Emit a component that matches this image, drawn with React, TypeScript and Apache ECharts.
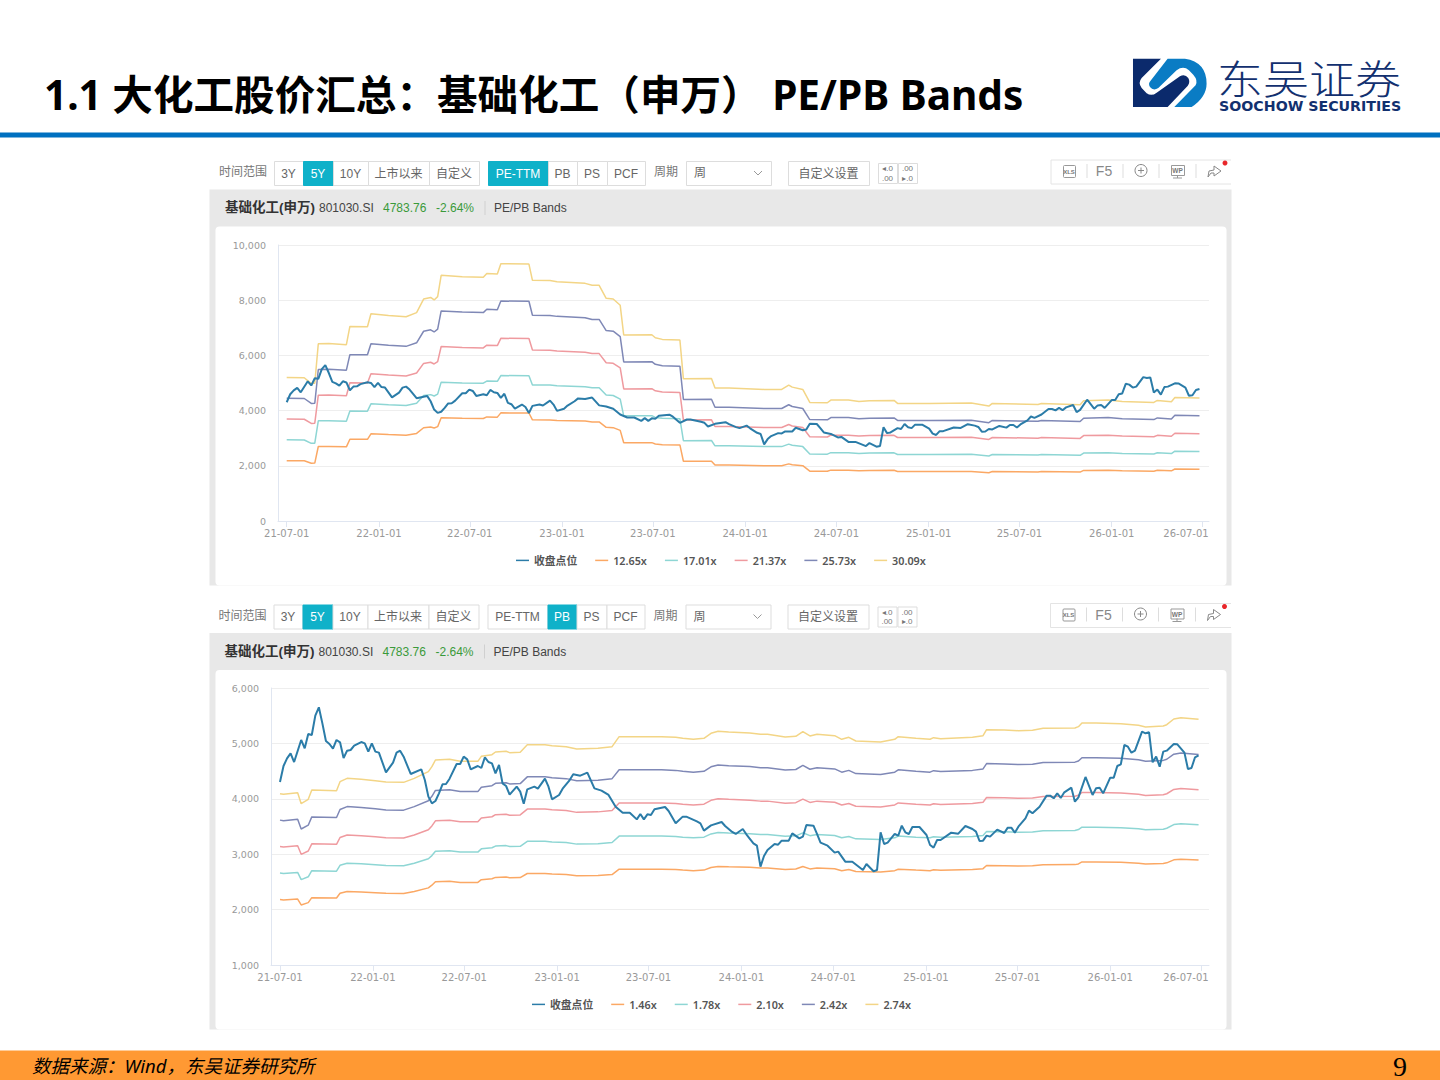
import React, { useEffect, useRef } from 'react';
import * as echarts from 'echarts';

const tickLabels = ['21-07-01', '22-01-01', '22-07-01', '23-01-01', '23-07-01', '24-01-01', '24-07-01', '25-01-01', '25-07-01', '26-01-01', '26-07-01'];

const closeName = '收盘点位';
const peNames = ['12.65x', '17.01x', '21.37x', '25.73x', '30.09x'];
const pbNames = ['1.46x', '1.78x', '2.10x', '2.42x', '2.74x'];
const bandColors = ['#fba864', '#8ed6d4', '#ef9a9f', '#7f88b6', '#f3d586'];

// 周收盘点位，周序号从 21-07-01 起算
const closeWeeks = [0, 1, 2, 3, 4, 6, 7, 8, 9, 10, 11, 12, 13, 14, 15, 16, 17, 18, 19, 20, 21, 23, 24, 25, 26, 27, 28, 30, 32, 33, 34, 35, 37, 40, 41, 42, 43, 44, 45, 46, 47, 48, 50, 51, 52, 53, 54, 56, 57, 58, 59, 60, 61, 62, 63, 64, 65, 67, 68, 69, 70, 72, 73, 75, 76, 77, 79, 80, 82, 83, 85, 87, 89, 91, 93, 95, 97, 99, 101, 102, 103, 104, 105, 106, 109, 110, 112, 114, 115, 118, 119, 120, 122, 125, 126, 128, 129, 131, 132, 134, 135, 136, 137, 138, 140, 141, 142, 144, 145, 147, 148, 149, 151, 152, 153, 155, 157, 158, 160, 162, 165, 166, 168, 169, 170, 171, 172, 174, 175, 176, 177, 178, 179, 181, 183, 184, 185, 186, 187, 190, 192, 194, 196, 197, 198, 199, 200, 201, 203, 205, 206, 207, 208, 209, 211, 212, 213, 215, 217, 218, 219, 220, 221, 222, 224, 225, 226, 228, 230, 231, 232, 233, 235, 236, 237, 238, 239, 240, 241, 242, 244, 245, 246, 247, 248, 249, 250, 251, 253, 254, 256, 257, 258, 259, 260];
const closeValues = [4303, 4592, 4731, 4821, 4664, 5062, 4911, 5170, 5152, 5501, 5651, 5362, 5043, 4989, 4905, 5062, 5020, 4737, 4869, 4881, 4959, 5025, 5001, 4851, 5001, 4851, 4833, 4478, 4652, 4833, 4869, 4761, 4448, 4532, 4339, 4039, 3918, 3960, 4099, 4261, 4267, 4363, 4628, 4628, 4761, 4712, 4532, 4592, 4556, 4749, 4664, 4640, 4460, 4610, 4279, 4231, 4075, 4219, 4129, 3912, 4171, 4219, 4183, 4363, 4219, 3990, 4069, 4183, 4339, 4442, 4418, 4472, 4189, 4147, 4069, 3858, 3750, 3750, 3629, 3726, 3629, 3720, 3708, 3810, 3852, 3780, 3557, 3678, 3678, 3593, 3557, 3425, 3521, 3581, 3509, 3401, 3365, 3455, 3359, 3196, 3154, 2775, 2968, 3076, 3184, 3172, 3244, 3244, 3377, 3286, 3316, 3527, 3515, 3365, 3208, 3154, 3028, 3046, 2865, 2865, 2715, 2823, 2691, 2715, 3395, 3184, 3208, 3365, 3335, 3515, 3395, 3365, 3491, 3491, 3347, 3166, 3118, 3256, 3256, 3389, 3371, 3509, 3455, 3407, 3238, 3244, 3335, 3317, 3443, 3383, 3479, 3479, 3389, 3497, 3647, 3786, 3738, 3858, 4057, 4057, 4009, 4099, 4015, 4117, 4201, 3948, 4027, 4394, 4069, 4189, 4201, 4099, 4382, 4382, 4592, 4622, 4971, 4941, 4833, 4869, 5212, 5182, 5200, 4658, 4761, 4580, 4851, 4869, 4989, 4983, 4833, 4538, 4556, 4749, 4784];

// PE Bands 折点
const peWeeks = [0, 5, 7, 8, 9, 12, 17, 18, 23, 24, 29, 34, 37, 39, 41, 42, 43, 44, 50, 56, 57, 60, 61, 69, 70, 75, 77, 85, 87, 89, 91, 93, 95, 96, 104, 105, 107, 112, 113, 121, 122, 126, 136, 141, 143, 144, 147, 149, 154, 155, 160, 163, 166, 173, 174, 183, 195, 200, 201, 214, 215, 226, 227, 234, 238, 247, 248, 252, 253, 260];
const pe1265 = [2186, 2182, 2094, 2098, 2699, 2703, 2686, 2964, 2960, 3157, 3132, 3111, 3174, 3380, 3405, 3367, 3418, 3742, 3721, 3712, 3771, 3763, 3918, 3914, 3666, 3662, 3645, 3620, 3590, 3590, 3393, 3382, 3285, 2834, 2838, 2791, 2766, 2758, 2165, 2169, 2026, 2025, 2004, 2004, 2070, 2039, 2004, 1806, 1801, 1842, 1842, 1822, 1832, 1837, 1791, 1791, 1796, 1751, 1791, 1776, 1791, 1771, 1832, 1842, 1822, 1806, 1837, 1817, 1883, 1872];
const pe1701 = [2940, 2934, 2815, 2821, 3629, 3635, 3612, 3985, 3980, 4245, 4211, 4183, 4268, 4545, 4579, 4528, 4596, 5031, 5003, 4992, 5071, 5059, 5269, 5263, 4929, 4924, 4901, 4867, 4828, 4828, 4562, 4548, 4418, 3810, 3816, 3754, 3720, 3708, 2911, 2917, 2725, 2722, 2695, 2695, 2784, 2742, 2695, 2429, 2422, 2477, 2477, 2449, 2463, 2470, 2408, 2408, 2415, 2354, 2408, 2388, 2408, 2381, 2463, 2477, 2449, 2429, 2470, 2443, 2531, 2518];
const pe2137 = [3693, 3686, 3537, 3544, 4559, 4567, 4538, 5007, 5000, 5334, 5291, 5255, 5362, 5710, 5753, 5689, 5774, 6321, 6285, 6271, 6371, 6356, 6619, 6612, 6193, 6186, 6157, 6115, 6065, 6065, 5731, 5714, 5550, 4787, 4794, 4716, 4673, 4659, 3658, 3665, 3423, 3420, 3386, 3386, 3498, 3444, 3386, 3052, 3043, 3111, 3111, 3077, 3094, 3103, 3025, 3025, 3034, 2957, 3025, 3000, 3025, 2991, 3094, 3111, 3077, 3052, 3103, 3069, 3180, 3163];
const pe2573 = [4447, 4438, 4258, 4267, 5490, 5498, 5464, 6028, 6020, 6422, 6370, 6328, 6456, 6875, 6926, 6849, 6952, 7610, 7568, 7551, 7670, 7653, 7969, 7961, 7456, 7448, 7414, 7362, 7303, 7303, 6901, 6879, 6683, 5763, 5772, 5678, 5627, 5609, 4404, 4412, 4122, 4118, 4077, 4077, 4211, 4147, 4077, 3674, 3664, 3746, 3746, 3705, 3726, 3736, 3643, 3643, 3653, 3561, 3643, 3612, 3643, 3602, 3726, 3746, 3705, 3674, 3736, 3695, 3829, 3809];
const pe3009 = [5200, 5190, 4980, 4990, 6420, 6430, 6390, 7050, 7040, 7510, 7450, 7400, 7550, 8040, 8100, 8010, 8130, 8900, 8850, 8830, 8970, 8950, 9320, 9310, 8720, 8710, 8670, 8610, 8540, 8540, 8070, 8045, 7815, 6740, 6750, 6640, 6580, 6560, 5150, 5160, 4820, 4816, 4768, 4768, 4925, 4850, 4768, 4297, 4285, 4381, 4381, 4333, 4357, 4369, 4260, 4260, 4272, 4164, 4260, 4224, 4260, 4212, 4357, 4381, 4333, 4297, 4369, 4321, 4478, 4454];

// PB Bands 折点
const pbWeeks = [0, 1, 5, 6, 8, 9, 16, 17, 19, 23, 27, 30, 35, 38, 42, 43, 44, 48, 51, 56, 57, 60, 61, 64, 65, 68, 70, 75, 77, 81, 84, 90, 94, 96, 101, 108, 112, 114, 117, 120, 122, 124, 127, 133, 136, 138, 143, 146, 148, 150, 152, 157, 159, 161, 163, 170, 174, 175, 180, 184, 185, 187, 196, 199, 200, 205, 209, 213, 216, 225, 226, 227, 231, 238, 243, 245, 250, 251, 253, 255, 260];
const pb146 = [2181, 2174, 2190, 2084, 2126, 2216, 2210, 2296, 2328, 2318, 2305, 2293, 2289, 2328, 2392, 2440, 2504, 2511, 2491, 2491, 2540, 2556, 2581, 2588, 2575, 2578, 2652, 2652, 2642, 2633, 2610, 2617, 2633, 2729, 2729, 2729, 2723, 2713, 2703, 2713, 2761, 2780, 2774, 2764, 2751, 2751, 2726, 2732, 2777, 2735, 2751, 2739, 2703, 2723, 2687, 2678, 2703, 2729, 2713, 2703, 2719, 2710, 2723, 2739, 2796, 2793, 2787, 2790, 2809, 2812, 2825, 2860, 2860, 2854, 2838, 2822, 2831, 2844, 2898, 2911, 2895];
const pb178 = [2659, 2651, 2671, 2541, 2592, 2702, 2694, 2799, 2838, 2826, 2811, 2795, 2791, 2838, 2917, 2975, 3053, 3061, 3038, 3038, 3097, 3116, 3147, 3155, 3140, 3143, 3233, 3233, 3221, 3210, 3182, 3190, 3210, 3327, 3327, 3327, 3319, 3308, 3296, 3308, 3366, 3390, 3382, 3370, 3355, 3355, 3323, 3331, 3386, 3335, 3355, 3339, 3296, 3319, 3277, 3265, 3296, 3327, 3308, 3296, 3316, 3304, 3319, 3339, 3409, 3405, 3397, 3401, 3425, 3429, 3444, 3487, 3487, 3479, 3460, 3440, 3452, 3468, 3534, 3549, 3530];
const pb210 = [3137, 3128, 3151, 2998, 3058, 3187, 3178, 3302, 3348, 3335, 3316, 3298, 3293, 3348, 3441, 3510, 3602, 3611, 3584, 3584, 3653, 3676, 3713, 3722, 3704, 3709, 3814, 3814, 3801, 3787, 3755, 3764, 3787, 3925, 3925, 3925, 3916, 3903, 3889, 3903, 3972, 3999, 3990, 3976, 3958, 3958, 3921, 3930, 3994, 3935, 3958, 3939, 3889, 3916, 3866, 3852, 3889, 3925, 3903, 3889, 3912, 3898, 3916, 3939, 4022, 4017, 4008, 4013, 4040, 4045, 4063, 4114, 4114, 4105, 4082, 4059, 4073, 4091, 4169, 4188, 4165];
const pb242 = [3615, 3604, 3631, 3455, 3524, 3673, 3663, 3806, 3859, 3843, 3822, 3800, 3795, 3859, 3966, 4045, 4151, 4162, 4130, 4130, 4210, 4237, 4279, 4290, 4269, 4274, 4396, 4396, 4380, 4364, 4327, 4337, 4364, 4524, 4524, 4524, 4513, 4497, 4481, 4497, 4577, 4609, 4598, 4582, 4561, 4561, 4518, 4529, 4603, 4534, 4561, 4540, 4481, 4513, 4455, 4439, 4481, 4524, 4497, 4481, 4508, 4492, 4513, 4540, 4635, 4630, 4619, 4624, 4656, 4662, 4683, 4741, 4741, 4730, 4704, 4677, 4693, 4714, 4805, 4826, 4799];
const pb274 = [4093, 4081, 4111, 3912, 3990, 4159, 4147, 4309, 4369, 4351, 4327, 4303, 4297, 4369, 4490, 4580, 4700, 4712, 4676, 4676, 4767, 4797, 4845, 4857, 4833, 4839, 4977, 4977, 4959, 4941, 4899, 4911, 4941, 5122, 5122, 5122, 5110, 5092, 5074, 5092, 5182, 5218, 5206, 5188, 5164, 5164, 5116, 5128, 5212, 5134, 5164, 5140, 5074, 5110, 5044, 5026, 5074, 5122, 5092, 5074, 5104, 5086, 5110, 5140, 5248, 5242, 5230, 5236, 5272, 5278, 5302, 5368, 5368, 5356, 5326, 5296, 5314, 5338, 5440, 5464, 5434];

const DAY = 86400000;
const START = Date.UTC(2021, 6, 1);
const tickTime = (label: string) => {
  const [y, m, d] = label.split('-').map(Number);
  return Date.UTC(2000 + y, m - 1, d);
};
const tickValues = tickLabels.map(tickTime);
const pairs = (weeks: number[], values: number[]) =>
  weeks.map((w, i) => [START + w * 7 * DAY, values[i]]);

const SANS = '"Liberation Sans","Noto Sans CJK SC",sans-serif';
const TICK_FONT = '"DejaVu Sans",sans-serif';
const GREY_TEXT = '#777';
const BORDER = '#ddd';
const ACTIVE = '#0fb1c9';

echarts.graphic.registerShape(
  'logoNavy',
  echarts.graphic.extendPath(
    'M24 20 L108 20 L50 78 Q38 92 50 108 L65 124 Q80 134 95 122 L165 73 Q180 65 190 78 Q197 90 188 102 L128 165 L24 165 Z',
    {},
  ),
);
echarts.graphic.registerShape(
  'logoBlue',
  echarts.graphic.extendPath(
    'M128 20 L180 20 Q245 30 245 95 Q245 135 200 165 L148 165 L212 100 Q220 85 205 68 L192 55 Q175 40 155 55 L100 108 Q85 118 75 105 Q68 95 78 85 Z',
    {},
  ),
);

const text = (x: number, y: number, value: string, size: number, fill: string, extra: any = {}) => ({
  type: 'text',
  z: -5,
  style: {
    x,
    y,
    text: value,
    fontSize: size,
    fontFamily: SANS,
    fill,
    textVerticalAlign: 'middle',
    ...extra,
  },
});

const rect = (x: number, y: number, w: number, h: number, fill: string, stroke?: string, r = 0) => ({
  type: 'rect',
  z: -5,
  shape: { x: x + 0.5, y: y + 0.5, width: w, height: h, r },
  style: { fill, stroke: stroke ?? 'none', lineWidth: 1 },
});

const line = (x1: number, y1: number, x2: number, y2: number, stroke: string, lineWidth = 1) => ({
  type: 'line',
  z: -5,
  shape: { x1, y1, x2, y2 },
  style: { stroke, lineWidth },
});

// 一行按钮，第一个参数是 [文字, 左, 右]
const buttons = (items: [string, number, number][], y: number, active: string) => {
  const out: any[] = [];
  items.forEach(([label, left, right]) => {
    const on = label === active;
    out.push(rect(left, y, right - left, 24, on ? ACTIVE : '#fff', on ? ACTIVE : BORDER));
    out.push(text((left + right) / 2, y + 12.5, label, 12, on ? '#fff' : '#666', { textAlign: 'center' }));
  });
  return out;
};

// 行情软件截图的工具栏、标题条和底板
const panel = (dx: number, dy: number, active: string, bottom: number) => {
  const Y = 161 + dy;
  return [
    rect(209, 189 + dy, 1022, bottom - 189 - dy, '#e8e8e8'),
    rect(215, 226 + dy, 1011, bottom - 226 - dy, '#fff', undefined, 4),
    text(219 + dx, 172 + dy, '时间范围', 12, GREY_TEXT),
    ...buttons(
      [['3Y', 274 + dx, 303 + dx], ['5Y', 303 + dx, 333 + dx], ['10Y', 333 + dx, 368 + dx], ['上市以来', 368 + dx, 429 + dx], ['自定义', 429 + dx, 479 + dx]],
      Y,
      '5Y',
    ),
    ...buttons(
      [['PE-TTM', 488 + dx, 548 + dx], ['PB', 548 + dx, 577 + dx], ['PS', 577 + dx, 607 + dx], ['PCF', 607 + dx, 645 + dx]],
      Y,
      active,
    ),
    text(654 + dx, 172 + dy, '周期', 12, GREY_TEXT),
    rect(686 + dx, Y, 85, 24, '#fff', BORDER),
    text(694 + dx, 173 + dy, '周', 12, '#666'),
    {
      type: 'polyline',
      z: -5,
      shape: { points: [[754 + dx, 171 + dy], [758 + dx, 175 + dy], [762 + dx, 171 + dy]] },
      style: { stroke: '#999', fill: 'none', lineWidth: 1 },
    },
    ...buttons([['自定义设置', 788 + dx, 869 + dx]], Y, ''),
    rect(878 + dx, 163 + dy, 19, 20, '#fff', BORDER),
    rect(898 + dx, 163 + dy, 19, 20, '#fff', BORDER),
    text(887.5 + dx, 168.5 + dy, '◂.0', 8, '#777', { textAlign: 'center' }),
    text(887.5 + dx, 178 + dy, '.00', 8, '#777', { textAlign: 'center' }),
    text(907.5 + dx, 168.5 + dy, '.00', 8, '#777', { textAlign: 'center' }),
    text(907.5 + dx, 178 + dy, '▸.0', 8, '#777', { textAlign: 'center' }),
    // 右侧图标栏
    line(1051 + dx, 160 + dy, 1231, 160 + dy, '#e4e4e4'),
    line(1051 + dx, 160 + dy, 1051 + dx, 184 + dy, '#e4e4e4'),
    line(1051 + dx, 184 + dy, 1231, 184 + dy, '#e4e4e4'),
    rect(1063 + dx, 165 + dy, 12, 12, '#fff', '#999', 1),
    text(1069 + dx, 171.5 + dy, 'XLS', 6, '#777', { textAlign: 'center', fontWeight: 'bold' }),
    line(1087 + dx, 164 + dy, 1087 + dx, 178 + dy, '#ddd'),
    text(1104 + dx, 171 + dy, 'F5', 14, '#888', { textAlign: 'center' }),
    line(1123 + dx, 164 + dy, 1123 + dx, 178 + dy, '#ddd'),
    { type: 'circle', z: -5, shape: { cx: 1141 + dx, cy: 170.5 + dy, r: 6 }, style: { fill: 'none', stroke: '#888', lineWidth: 1 } },
    line(1138 + dx, 170.5 + dy, 1144 + dx, 170.5 + dy, '#888'),
    line(1141 + dx, 167.5 + dy, 1141 + dx, 173.5 + dy, '#888'),
    line(1159 + dx, 164 + dy, 1159 + dx, 178 + dy, '#ddd'),
    rect(1171 + dx, 165 + dy, 13, 10, '#fff', '#999'),
    text(1177.5 + dx, 170.5 + dy, 'WP', 6.5, '#777', { textAlign: 'center', fontWeight: 'bold' }),
    line(1177.5 + dx, 175 + dy, 1177.5 + dx, 178 + dy, '#999'),
    line(1173 + dx, 178 + dy, 1182 + dx, 178 + dy, '#999'),
    line(1196 + dx, 164 + dy, 1196 + dx, 178 + dy, '#ddd'),
    {
      type: 'polyline',
      z: -5,
      shape: {
        points: [[1208, 177], [1209, 171], [1214, 170], [1214, 166], [1221, 171], [1214, 176], [1214, 173], [1211, 173], [1208, 177]].map(
          ([px, py]) => [px + dx, py + dy],
        ),
      },
      style: { fill: 'none', stroke: '#888', lineWidth: 1 },
    },
    { type: 'circle', z: -5, shape: { cx: 1225 + dx, cy: 163 + dy, r: 2.5 }, style: { fill: '#e8262a' } },
    // 标题条
    text(225 + dx, 207.5 + dy, '基础化工(申万)', 13.5, '#333', { fontWeight: 'bold' }),
    text(319 + dx, 208 + dy, '801030.SI', 12, '#444'),
    text(383 + dx, 208 + dy, '4783.76', 12, '#3a9a3a'),
    text(436 + dx, 208 + dy, '-2.64%', 12, '#3a9a3a'),
    line(485 + dx, 201 + dy, 485 + dx, 215 + dy, '#d0d0d0'),
    text(494 + dx, 208 + dy, 'PE/PB Bands', 12, '#444'),
  ];
};

const yLabel = (v: number) => v.toLocaleString('en-US');
const xLabel = (v: number) => {
  const d = new Date(v);
  const two = (n: number) => String(n).padStart(2, '0');
  return `${two(d.getUTCFullYear() % 100)}-${two(d.getUTCMonth() + 1)}-${two(d.getUTCDate())}`;
};

// 时间以毫秒值放在 value 轴上，刻度用 customValues 指定
const xAxis = (gridIndex: number, minDays: number, maxDays: number) => ({
  type: 'value',
  gridIndex,
  min: START + minDays * DAY,
  max: START + maxDays * DAY,
  axisLine: { show: true, onZero: false, lineStyle: { color: '#e0e6f1' } },
  axisTick: { show: true, length: 6, customValues: tickValues, lineStyle: { color: '#e0e6f1' } },
  axisLabel: {
    customValues: tickValues.slice(0, -1),
    formatter: xLabel,
    color: '#999',
    fontSize: 10,
    fontFamily: TICK_FONT,
    margin: 7,
  },
  splitLine: { show: false },
});

const yAxis = (gridIndex: number, min: number, max: number, interval: number) => ({
  type: 'value',
  gridIndex,
  min,
  max,
  interval,
  axisLine: { show: true, lineStyle: { color: '#e0e6f1' } },
  axisTick: { show: false },
  axisLabel: { formatter: yLabel, color: '#999', fontSize: 9.5, fontFamily: TICK_FONT, margin: 12 },
  splitLine: { lineStyle: { color: '#eeeeee' } },
});

const bandSeries = (names: string[], weeks: number[], bands: number[][], axisIndex: number) =>
  names.map((name, i) => ({
    name,
    type: 'line',
    xAxisIndex: axisIndex,
    yAxisIndex: axisIndex,
    data: pairs(weeks, bands[i]),
    showSymbol: false,
    symbol: 'none',
    silent: true,
    lineStyle: { width: 1.5, color: bandColors[i] },
    itemStyle: { color: bandColors[i] },
  }));

const closeSeries = (axisIndex: number) => ({
  name: closeName,
  type: 'line',
  xAxisIndex: axisIndex,
  yAxisIndex: axisIndex,
  data: pairs(closeWeeks, closeValues),
  showSymbol: false,
  symbol: 'none',
  silent: true,
  z: 5,
  lineStyle: { width: 2, color: '#2b7ca8' },
  itemStyle: { color: '#2b7ca8' },
});

const legend = (left: number, top: number, names: string[]) => ({
  left,
  top,
  padding: 0,
  data: [closeName, ...names],
  icon: 'rect',
  itemWidth: 13,
  itemHeight: 1.5,
  itemGap: 18,
  selectedMode: false,
  textStyle: { color: '#555', fontSize: 10.8, fontWeight: 600, fontFamily: '"Noto Sans","Noto Sans CJK SC",sans-serif' },
});

const App: React.FC = () => {
  const chartRef = useRef<HTMLDivElement>(null);

  useEffect(() => {
    if (!chartRef.current) return;
    const chart = echarts.init(chartRef.current, undefined, { renderer: 'svg' });

    chart.setOption({
      animation: false,
      backgroundColor: '#fff',
      grid: [
        { left: 278, top: 245, width: 931, height: 276 },
        { left: 271, top: 688, width: 938, height: 277 },
      ],
      xAxis: [xAxis(0, -17.35, 1839), xAxis(1, -17.8, 1840.7)],
      yAxis: [yAxis(0, 0, 10000, 2000), yAxis(1, 1000, 6000, 1000)],
      legend: [legend(516, 555, peNames), legend(532, 999, pbNames)],
      series: [
        ...bandSeries(peNames, peWeeks, [pe1265, pe1701, pe2137, pe2573, pe3009], 0),
        closeSeries(0),
        ...bandSeries(pbNames, pbWeeks, [pb146, pb178, pb210, pb242, pb274], 1),
        closeSeries(1),
      ],
      graphic: {
        elements: [
          // 页面标题和页脚
          text(44, 94.5, '1.1 大化工股价汇总：基础化工（申万） PE/PB Bands', 40.6, '#000', {
            fontWeight: 'bold',
            fontFamily: '"Noto Sans","Noto Sans CJK SC",sans-serif',
          }),
          rect(-1, 132, 1442, 5, '#0070c0'),
          { type: 'logoNavy', z: -5, x: 1125, y: 52, scaleX: 1 / 3, scaleY: 1 / 3, style: { fill: '#0b2a6c' } },
          { type: 'logoBlue', z: -5, x: 1125, y: 52, scaleX: 1 / 3, scaleY: 1 / 3, style: { fill: '#0a7cc4' } },
          {
            ...text(0, 0, '东吴证券', 46, '#12306f', { fontFamily: '"Noto Sans CJK SC",sans-serif', fontWeight: 300 }),
            x: 1217,
            y: 76,
            scaleY: 0.86,
          },
          text(1219, 105.5, 'SOOCHOW SECURITIES', 14.2, '#12306f', {
            fontWeight: 'bold',
            fontFamily: TICK_FONT,
          }),
          ...panel(0, 0, 'PE-TTM', 585),
          ...panel(-0.5, 443.5, 'PB', 1029),
          text(1186, 533.5, tickLabels[10], 10, '#999', { textAlign: 'center', fontFamily: TICK_FONT }),
          text(1186, 977.5, tickLabels[10], 10, '#999', { textAlign: 'center', fontFamily: TICK_FONT }),
          rect(-1, 1050, 1442, 31, '#ff9933'),
          text(32, 1065.5, '数据来源：Wind，东吴证券研究所', 18.5, '#000', {
            fontStyle: 'italic',
            fontFamily: '"Noto Sans","Noto Sans CJK SC",sans-serif',
          }),
          text(1400, 1066, '9', 28, '#000', { textAlign: 'center', fontFamily: '"Liberation Serif",serif' }),
        ],
      },
    });

    return () => {
      chart.dispose();
    };
  }, []);

  return <div ref={chartRef} style={{ position: 'absolute', left: 0, top: 0, width: 1440, height: 1080 }} />;
};

export default App;
